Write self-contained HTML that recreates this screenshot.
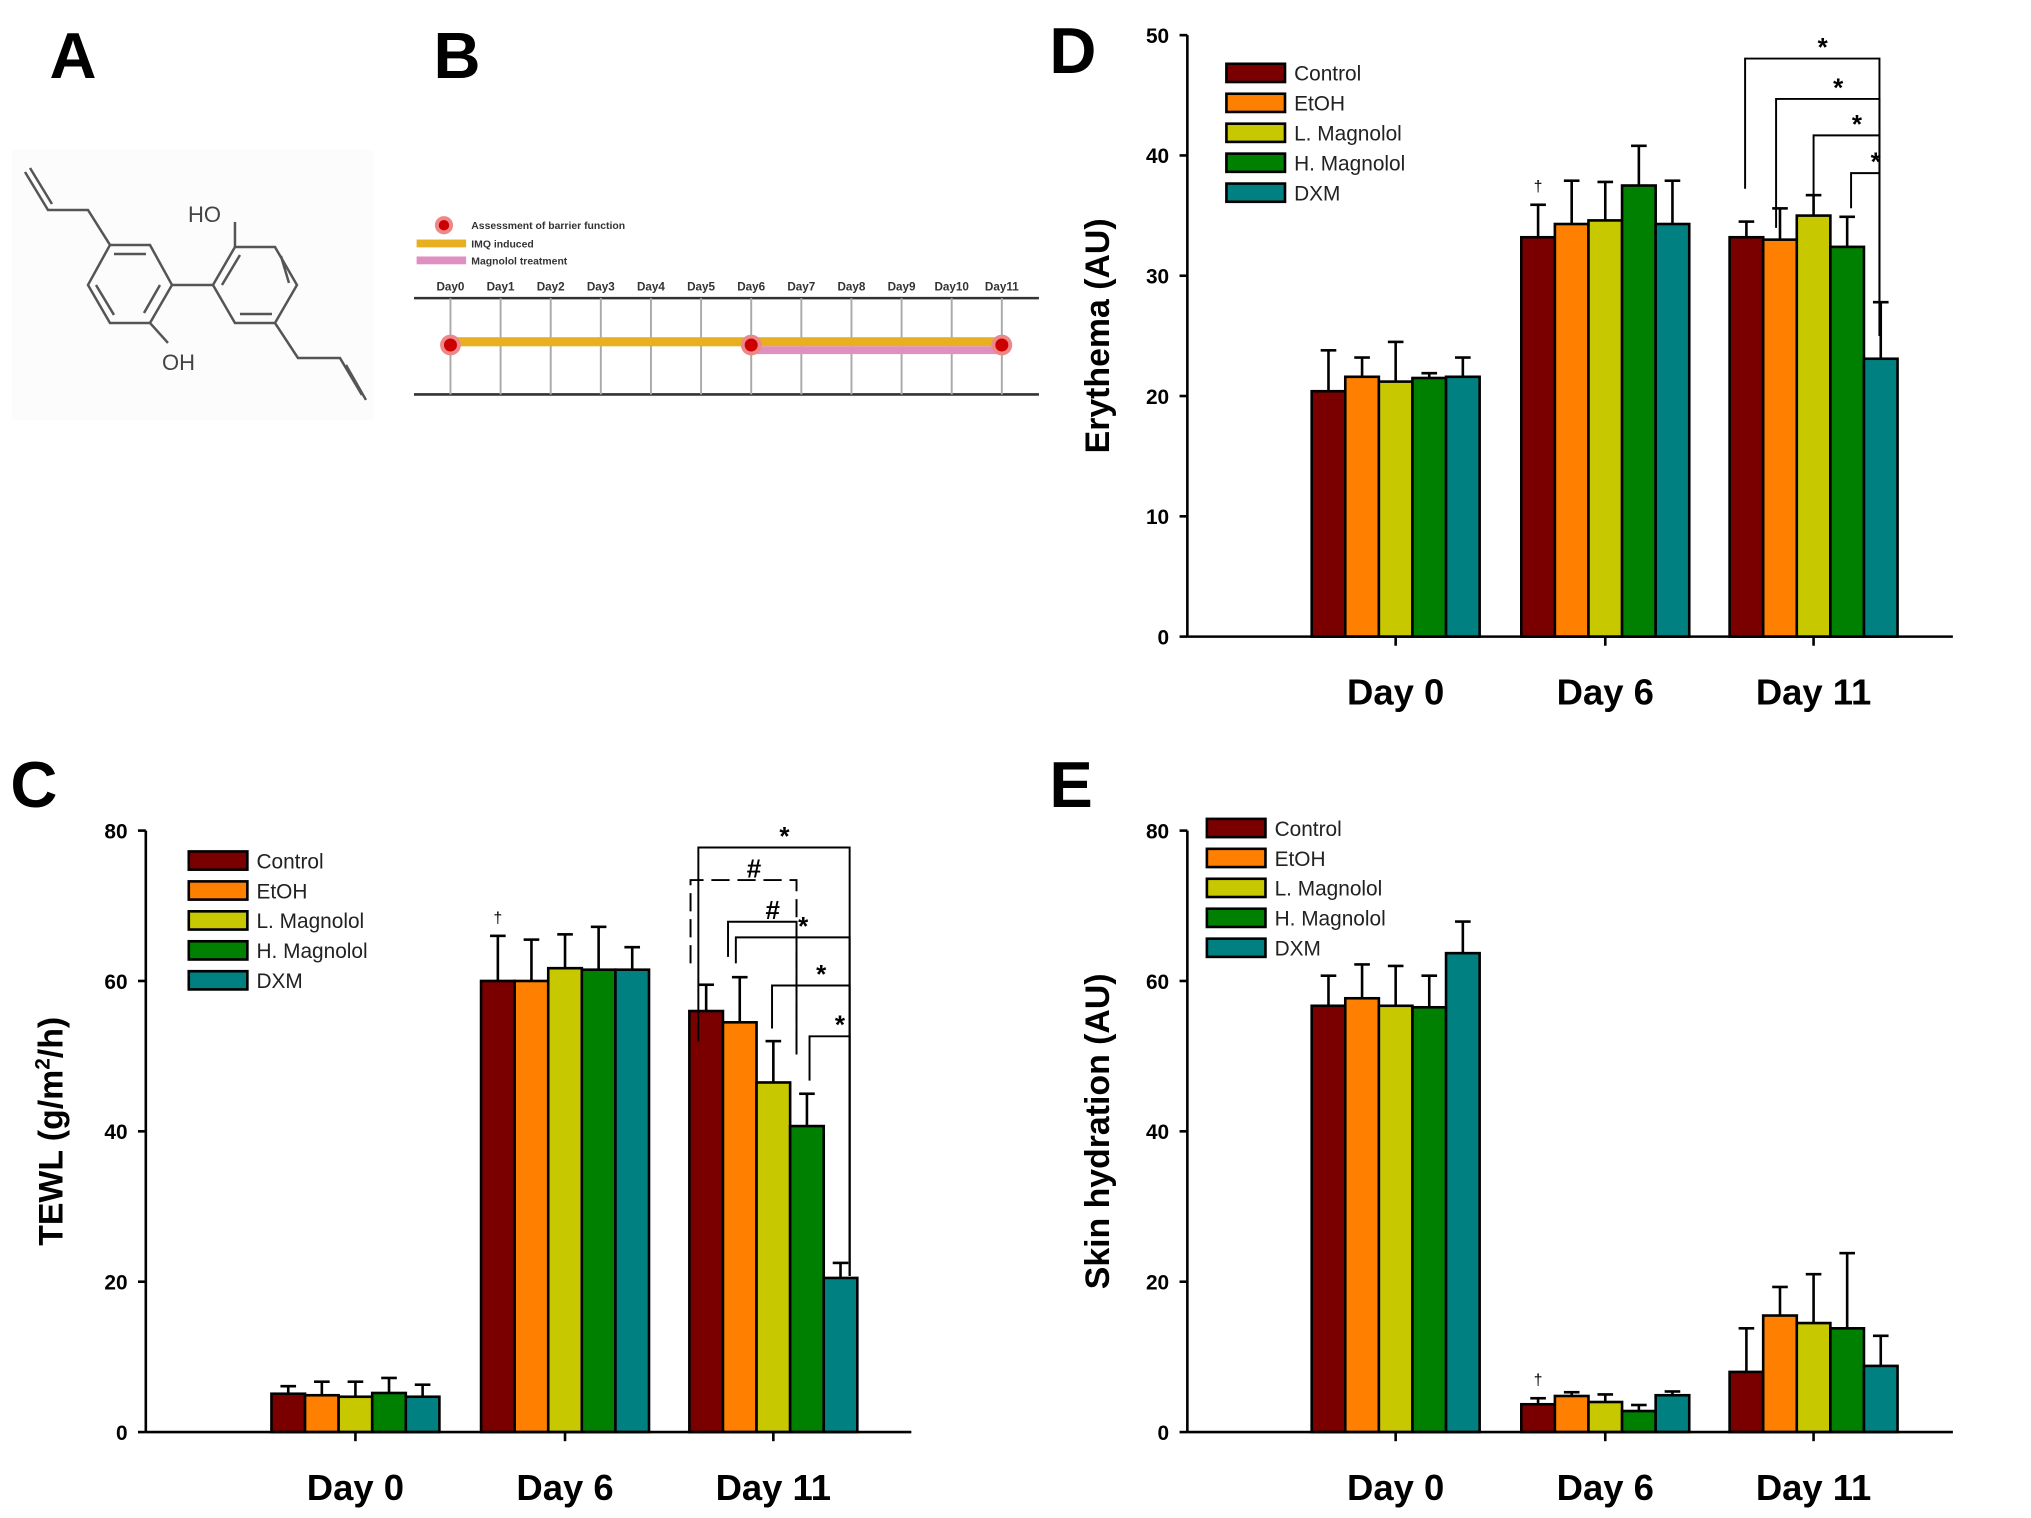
<!DOCTYPE html>
<html><head><meta charset="utf-8"><style>
html,body{margin:0;padding:0;background:#fff}
svg{display:block;font-family:"Liberation Sans",Arial,sans-serif}
</style></head><body>
<svg id="fig" width="2031" height="1518" viewBox="0 0 1560 1166" preserveAspectRatio="none" xmlns="http://www.w3.org/2000/svg">
<rect width="1560" height="1166" fill="#fff"/>
<g font-weight="bold" font-size="50" fill="#000">
<text x="38" y="60">A</text>
<text x="333" y="60">B</text>
<text x="8" y="620">C</text>
<text x="806" y="56">D</text>
<text x="806" y="620">E</text>
</g>
<g transform="scale(0.768)" stroke="#555" stroke-width="2.5" fill="none">
<rect x="12" y="150" width="362" height="270" fill="#fcfcfc" stroke="none"/>
<polyline points="25,172 48,210 88,210 110,245"/>
<line x1="30" y1="168" x2="52" y2="204"/>
<polygon points="110,245 150,245 172,285 150,323 110,323 88,285"/>
<line x1="114" y1="254" x2="146" y2="254"/><line x1="160" y1="285" x2="144" y2="313"/><line x1="96" y1="285" x2="114" y2="315"/>
<line x1="172" y1="285" x2="213" y2="285"/>
<polygon points="213,285 235,247 275,247 297,285 275,323 235,323"/>
<line x1="222" y1="285" x2="240" y2="255"/><line x1="281" y1="256" x2="289" y2="283"/><line x1="240" y1="314" x2="272" y2="314"/>
<line x1="235" y1="247" x2="235" y2="222"/>
<line x1="150" y1="323" x2="168" y2="343"/>
<polyline points="275,323 298,358 340,358 362,395"/>
<line x1="346" y1="365" x2="366" y2="400"/>
<text x="188" y="222" font-size="22" fill="#444" stroke="none">HO</text>
<text x="162" y="370" font-size="22" fill="#444" stroke="none">OH</text>
</g>
<g id="timeline">
<circle cx="341" cy="173" r="7" fill="#e88" /><circle cx="341" cy="173" r="4" fill="#c00"/>
<text x="362" y="176" font-size="8" font-weight="bold" fill="#333">Assessment of barrier function</text>
<rect x="320" y="184" width="38" height="6" fill="#e8b020"/><text x="362" y="190" font-size="8" font-weight="bold" fill="#333">IMQ induced</text>
<rect x="320" y="197" width="38" height="6" fill="#e090c0"/><text x="362" y="203" font-size="8" font-weight="bold" fill="#333">Magnolol treatment</text>
<line x1="318" y1="229" x2="798" y2="229" stroke="#333" stroke-width="2"/>
<line x1="318" y1="303" x2="798" y2="303" stroke="#333" stroke-width="2"/>
</g>
</svg>
<script>
const NS='http://www.w3.org/2000/svg';
const svg=document.getElementById('fig');
function mk(tag,attrs,parent,text){const e=document.createElementNS(NS,tag);for(const k in attrs)e.setAttribute(k,attrs[k]);if(text!==undefined)e.textContent=text;(parent||svg).appendChild(e);return e;}

const dayNames=['Day0','Day1','Day2','Day3','Day4','Day5','Day6','Day7','Day8','Day9','Day10','Day11'];
const tl=document.getElementById('timeline');
const tx=i=>346+i*38.5;
dayNames.forEach((d,i)=>{
  const t=mk('text',{x:tx(i),y:223,'font-size':9,'font-weight':'bold','text-anchor':'middle',fill:'#333'},tl,d);
  
  
  mk('line',{x1:tx(i),y1:229,x2:tx(i),y2:303,stroke:'#aaa','stroke-width':1.5},tl);
});
mk('rect',{x:tx(0),y:259,width:tx(11)-tx(0),height:7,fill:'#e8b020'},tl);
mk('rect',{x:tx(6),y:266,width:tx(11)-tx(6),height:6,fill:'#e090c0'},tl);
[0,6,11].forEach(i=>{mk('circle',{cx:tx(i),cy:265,r:8,fill:'#e88'},tl);mk('circle',{cx:tx(i),cy:265,r:5,fill:'#c00'},tl);});

const groups=['Day 0','Day 6','Day 11'];
const seriesNames=['Control','EtOH','L. Magnolol','H. Magnolol','DXM'];
const colors=['#7a0000','#ff8000','#c8c800','#008000','#008080'];
const tewlMean=[[5.1,60,56],[4.9,60,54.5],[4.7,61.7,46.5],[5.2,61.5,40.7],[4.7,61.5,20.5]];
const tewlErr=[[1,6,3.5],[1.8,5.5,6],[2,4.5,5.5],[2,5.7,4.3],[1.6,3,2]];
const tewlTicks=[0,20,40,60,80];
const eryMean=[[20.4,33.2,33.2],[21.6,34.3,33],[21.2,34.6,35],[21.5,37.5,32.4],[21.6,34.3,23.1]];
const eryErr=[[3.4,2.7,1.3],[1.6,3.6,2.6],[3.3,3.2,1.7],[0.4,3.3,2.5],[1.6,3.6,4.7]];
const eryTicks=[0,10,20,30,40,50];
const hydMean=[[56.7,3.7,8],[57.7,4.8,15.5],[56.7,4,14.5],[56.5,2.8,13.8],[63.7,4.9,8.8]];
const hydErr=[[4,0.8,5.8],[4.5,0.5,3.8],[5.3,1,6.5],[4.2,0.8,10],[4.2,0.5,4]];
const hydTicks=[0,20,40,60,80];

function chart(cfg){
  const g=mk('g',{});
  
  
  const y=v=>cfg.y0-(v-cfg.min)/(cfg.max-cfg.min)*(cfg.y0-cfg.yTop);
  const bw=25.8, centers=cfg.centers;
  const x=(gi,si)=>centers[gi]+(si-2.5)*bw;
  cfg.mean.forEach((ser,si)=>ser.forEach((v,gi)=>{
    const bx=x(gi,si), top=y(v), e=cfg.err[si][gi];
    const ln=mk('line',{x1:bx+bw/2,y1:top,x2:bx+bw/2,y2:y(v+e),stroke:'#000','stroke-width':2},g);
    
    
    mk('line',{x1:bx+bw/2-6,y1:y(v+e),x2:bx+bw/2+6,y2:y(v+e),stroke:'#000','stroke-width':2},g);
    const r=mk('rect',{x:bx,y:top,width:bw,height:cfg.y0-top,fill:colors[si],stroke:'#000','stroke-width':2},g);
    
    
  }));
  mk('line',{x1:cfg.x0,y1:cfg.yTop,x2:cfg.x0,y2:cfg.y0,stroke:'#000','stroke-width':2},g);
  mk('line',{x1:cfg.x0,y1:cfg.y0,x2:cfg.xEnd,y2:cfg.y0,stroke:'#000','stroke-width':2},g);
  cfg.ticks.forEach(t=>{
    mk('line',{x1:cfg.x0-6,y1:y(t),x2:cfg.x0,y2:y(t),stroke:'#000','stroke-width':2},g);
    const tl=mk('text',{x:cfg.x0-14,y:y(t)+6,'font-size':16,'font-weight':'bold','text-anchor':'end'},g,t);
    
    
  });
  groups.forEach((gn,gi)=>{
    mk('line',{x1:centers[gi],y1:cfg.y0,x2:centers[gi],y2:cfg.y0+7,stroke:'#000','stroke-width':2},g);
    const t=mk('text',{x:centers[gi],y:cfg.y0+52,'font-size':28,'font-weight':'bold','text-anchor':'middle'},g,gn);
    
    
  });
  const ty=(cfg.yTop+cfg.y0)/2;
  const at=mk('text',{x:cfg.titleX,y:ty,'font-size':26,'font-weight':'bold','text-anchor':'middle',transform:`rotate(-90 ${cfg.titleX} ${ty})`},g);
  
  
  at.innerHTML=cfg.title;
  seriesNames.forEach((s,i)=>{
    const ly=cfg.legY+i*23;
    const lr=mk('rect',{x:cfg.legX,y:ly-7,width:45,height:14,fill:colors[i],stroke:'#000','stroke-width':2},g);
    
    
    const lt=mk('text',{x:cfg.legX+52,y:ly+6,'font-size':16,fill:'#222'},g,s);
    
    
  });
  const dg=mk('text',{x:x(1,0)+bw/2,y:y(cfg.mean[0][1]+cfg.err[0][1])-10,'font-size':12,'text-anchor':'middle'},g,'†');
  
  
  return {g,y,x,bw};
}

const C=chart({name:'tewl-chart',mean:tewlMean,err:tewlErr,min:0,max:80,ticks:tewlTicks,x0:112,xEnd:700,yTop:638,y0:1100,centers:[273,434,594],title:'TEWL (g/m<tspan dy="-10" font-size="16">2</tspan><tspan dy="10">/h)</tspan>',titleX:48,legX:145,legY:661});
const D=chart({name:'erythema-chart',mean:eryMean,err:eryErr,min:0,max:50,ticks:eryTicks,x0:912,xEnd:1500,yTop:27,y0:489,centers:[1072,1233,1393],title:'Erythema (AU)',titleX:852,legX:942,legY:56});
const E=chart({name:'skin-hydration-chart',mean:hydMean,err:hydErr,min:0,max:80,ticks:hydTicks,x0:912,xEnd:1500,yTop:638,y0:1100,centers:[1072,1233,1393],title:'Skin hydration (AU)',titleX:852,legX:927,legY:636});

function bracket(g,x1,x2,yb,y1,y2,label,dash){
  const p=mk('path',{d:`M${x1},${y1} V${yb} H${x2} V${y2}`,fill:'none',stroke:'#000','stroke-width':1.5,'stroke-dasharray':dash||'none'},g);
  
  
  const t=mk('text',{x:(x1+x2)/2+8,y:yb-2,'font-size':20,'font-weight':'bold','text-anchor':'middle'},g,label);
  
  
}
const cg=C.g, cx=i=>C.x(2,i)+C.bw/2;
bracket(cg,cx(0)-6,cx(4)+7,651,800,980,'*');
bracket(cg,cx(0)-12,cx(3)-8,676,740,810,'#','14,6');
bracket(cg,cx(1)-9,cx(3)-8,708,735,810,'#');
bracket(cg,cx(1)-3,cx(4)+7,720,740,980,'*');
bracket(cg,cx(2)-1,cx(4)+7,757,790,980,'*');
bracket(cg,cx(3)+2,cx(4)+7,796,830,980,'*');
const dg=D.g, dx=i=>D.x(2,i)+D.bw/2;
bracket(dg,dx(0)-1,dx(4)-1,45,145,258,'*');
bracket(dg,dx(1)-3,dx(4)-1,76,175,258,'*');
bracket(dg,dx(2),dx(4)-1,104,165,258,'*');
bracket(dg,dx(3)+3,dx(4)-1,133,160,258,'*');
</script>
</body></html>
